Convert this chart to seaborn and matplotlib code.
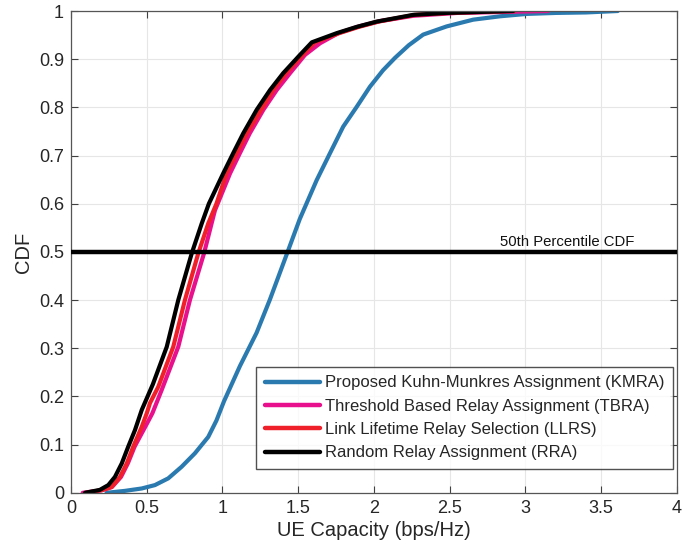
import numpy as np
import pandas as pd
import matplotlib
matplotlib.use("Agg")
import matplotlib.pyplot as plt
import seaborn as sns

# ---- data ----
kmra_x = [0.235, 0.356, 0.467, 0.554, 0.642, 0.73, 0.818, 0.906, 0.96, 1.01, 1.115, 1.225, 1.313,
          1.43, 1.51, 1.622, 1.71, 1.797, 1.886, 1.974, 2.06, 2.14, 2.23, 2.325, 2.48, 2.655,
          2.832, 3.01, 3.2, 3.4, 3.61]
kmra_cdf = [0.0, 0.004, 0.009, 0.016, 0.03, 0.054, 0.082, 0.116, 0.15, 0.19, 0.263, 0.332, 0.401,
            0.50, 0.568, 0.649, 0.705, 0.76, 0.801, 0.843, 0.877, 0.903, 0.929, 0.951, 0.968, 0.982,
            0.989, 0.994, 0.996, 0.997, 1.0]

tbra_x = [0.077, 0.20, 0.27, 0.33, 0.375, 0.42, 0.49, 0.537, 0.598, 0.708, 0.785, 0.878, 0.928, 0.95,
          1.05, 1.115, 1.18, 1.27, 1.358, 1.446, 1.545, 1.644, 1.765, 1.90, 2.04, 2.26, 2.55, 3.15]
tbra_cdf = [0.0, 0.005, 0.012, 0.033, 0.061, 0.096, 0.137, 0.165, 0.213, 0.303, 0.40, 0.497, 0.559,
            0.586, 0.663, 0.705, 0.746, 0.795, 0.836, 0.871, 0.909, 0.933, 0.954, 0.968, 0.979, 0.99,
            0.996, 1.0]

llrs_x = [0.10, 0.21, 0.268, 0.323, 0.368, 0.411, 0.467, 0.50, 0.521, 0.576, 0.675, 0.752, 0.84,
          0.906, 0.96, 1.027, 1.16, 1.335, 1.42, 1.53, 1.61, 1.77, 1.90, 2.03, 2.27, 2.5, 2.93]
llrs_cdf = [0.0, 0.006, 0.012, 0.033, 0.061, 0.096, 0.137, 0.165, 0.186, 0.22, 0.303, 0.40, 0.497,
            0.559, 0.60, 0.663, 0.746, 0.836, 0.871, 0.909, 0.935, 0.954, 0.967, 0.978, 0.992, 0.996, 1.0]

rra_x = [0.092, 0.19, 0.246, 0.29, 0.335, 0.378, 0.422, 0.467, 0.54, 0.632, 0.708, 0.797, 0.863,
         0.91, 1.005, 1.071, 1.137, 1.226, 1.314, 1.401, 1.512, 1.59, 1.754, 1.886, 2.018, 2.26,
         2.48, 2.92]
rra_cdf = [0.0, 0.006, 0.016, 0.033, 0.061, 0.096, 0.13, 0.172, 0.225, 0.303, 0.40, 0.497, 0.559,
           0.60, 0.663, 0.705, 0.746, 0.795, 0.836, 0.871, 0.909, 0.935, 0.954, 0.967, 0.978, 0.992,
           0.996, 1.0]

labels = ["Proposed Kuhn-Munkres Assignment (KMRA)",
          "Threshold Based Relay Assignment (TBRA)",
          "Link Lifetime Relay Selection (LLRS)",
          "Random Relay Assignment (RRA)"]
colors = ["#2a7ab0", "#e8108c", "#f0202a", "#000000"]

percentile_level = 0.5
percentile_text = "50th Percentile CDF"

x_ticks = [0, 0.5, 1, 1.5, 2, 2.5, 3, 3.5, 4]
x_tick_labels = ["0", "0.5", "1", "1.5", "2", "2.5", "3", "3.5", "4"]
y_ticks = [0, 0.1, 0.2, 0.3, 0.4, 0.5, 0.6, 0.7, 0.8, 0.9, 1]
y_tick_labels = ["0", "0.1", "0.2", "0.3", "0.4", "0.5", "0.6", "0.7", "0.8", "0.9", "1"]

# ---- build long-form table ----
frames = []
for lab, xs, cs in zip(labels, [kmra_x, tbra_x, llrs_x, rra_x],
                       [kmra_cdf, tbra_cdf, llrs_cdf, rra_cdf]):
    frames.append(pd.DataFrame({"x": xs, "cdf": cs, "series": lab}))
df = pd.concat(frames, ignore_index=True)

sns.set_style("white")
plt.rcParams["font.family"] = ["Liberation Sans", "DejaVu Sans"]

fig = plt.figure(figsize=(6.83, 5.5), dpi=100)
ax = fig.add_axes([0.104, 0.104, 0.887, 0.876])

ax.grid(True, color="#e6e6e6", linewidth=0.8, zorder=0)
ax.set_axisbelow(True)

sns.lineplot(data=df, x="x", y="cdf", hue="series", hue_order=labels,
             palette=dict(zip(labels, colors)), sort=False, estimator=None,
             linewidth=3.0, ax=ax, legend=True)
for ln in ax.get_lines():
    ln.set_solid_joinstyle("round")
    ln.set_solid_capstyle("round")

ax.axhline(percentile_level, color="black", linewidth=3.2, zorder=5)
ax.text(2.83, percentile_level + 0.005, percentile_text, fontsize=10.7,
        color="#111111", va="bottom", ha="left")

ax.set_xlim(0, 4)
ax.set_ylim(0, 1)
ax.set_xticks(x_ticks)
ax.set_xticklabels(x_tick_labels)
ax.set_yticks(y_ticks)
ax.set_yticklabels(y_tick_labels)
ax.tick_params(direction="in", length=5, width=0.8, colors="#404040",
               labelcolor="#262626", labelsize=13, top=True, right=True,
               bottom=True, left=True, pad=5)
for s in ax.spines.values():
    s.set_color("#555555")
    s.set_linewidth(0.9)

ax.set_xlabel("UE Capacity (bps/Hz)", fontsize=14.5, color="#262626", labelpad=3)
ax.set_ylabel("CDF", fontsize=14.5, color="#262626", labelpad=4)

leg = ax.legend(loc="lower right", fontsize=12, frameon=True, fancybox=False,
                edgecolor="#262626", handlelength=3.3, handletextpad=0.3,
                labelspacing=0.5, borderpad=0.5, borderaxespad=0.0,
                bbox_to_anchor=(0.993, 0.05))
leg.get_frame().set_linewidth(1.0)
for h in leg.get_lines():
    h.set_linewidth(3.2)

fig.savefig("out.png", dpi=100)
